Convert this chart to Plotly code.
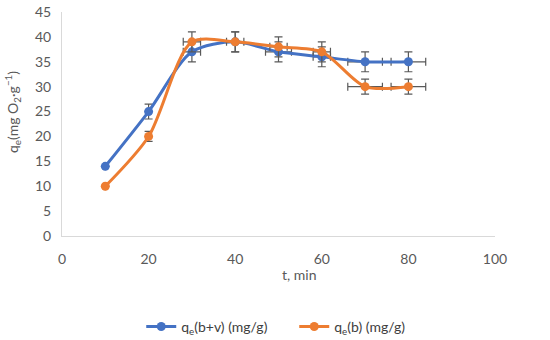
import plotly.graph_objects as go

t = [10, 20, 30, 40, 50, 60, 70, 80]
qe_bv = [14, 25, 37, 39, 37, 36, 35, 35]
qe_b = [10, 20, 39, 39, 38, 37, 30, 30]
err_y_bv = [0, 1.5, 2, 2, 2, 2, 2, 2]
err_y_b = [0, 1, 2, 2, 2, 2, 1.5, 1.5]
err_x_bv = [0, 0, 2, 0, 3, 2, 4, 4]
err_x_b = [0, 0, 2, 2, 2, 2, 4, 4]

ecol = "#595959"
fig = go.Figure()
for name, y, ey, ex, col in [
    ("q<sub>e</sub>(b+v) (mg/g)", qe_bv, err_y_bv, err_x_bv, "#4472C4"),
    ("q<sub>e</sub>(b) (mg/g)", qe_b, err_y_b, err_x_b, "#ED7D31"),
]:
    fig.add_trace(go.Scatter(
        x=t, y=y, name=name, mode="lines+markers",
        line=dict(color=col, width=3, shape="spline", smoothing=0.8),
        marker=dict(color=col, size=9),
        error_y=dict(type="data", array=ey, color=ecol, thickness=1.2, width=4),
        error_x=dict(type="data", array=ex, color=ecol, thickness=1.2, width=4),
    ))

fig.update_layout(
    width=550, height=340,
    margin=dict(l=62, r=55, t=12, b=104, autoexpand=False),
    paper_bgcolor="white", plot_bgcolor="white",
    font=dict(family="Lato, Liberation Sans, sans-serif", size=14, color="#595959"),
    showlegend=True,
    legend=dict(orientation="h", x=0.183, xanchor="left", y=-0.406, yanchor="middle",
                entrywidth=108, entrywidthmode="pixels",
                font=dict(size=14, color="#404040")),
    xaxis=dict(range=[0, 100], dtick=20, showgrid=False, showline=True,
               linecolor="#D9D9D9", linewidth=1, zeroline=False, ticks="",
               automargin=False, ticklabelstandoff=10),
    yaxis=dict(range=[0, 45], dtick=5, showgrid=False, showline=True,
               linecolor="#D9D9D9", linewidth=1, zeroline=False, ticks="",
               automargin=False, ticklabelstandoff=7, ticklabeloverflow="allow"),
    annotations=[
        dict(text="t, min", xref="paper", yref="paper", x=0.547, y=-0.174,
             xanchor="center", yanchor="middle", showarrow=False,
             font=dict(size=14, color="#595959")),
        dict(text="q<sub>e</sub>(mg O<sub>2</sub>·g<sup>−1</sup>)", xref="paper", yref="paper",
             x=-0.113, y=0.554, xanchor="center", yanchor="middle", textangle=-90,
             showarrow=False, font=dict(size=14, color="#595959")),
    ],
)
fig.write_html("out.html", config={"displayModeBar": False},
               post_script="document.body.style.margin='0';")
